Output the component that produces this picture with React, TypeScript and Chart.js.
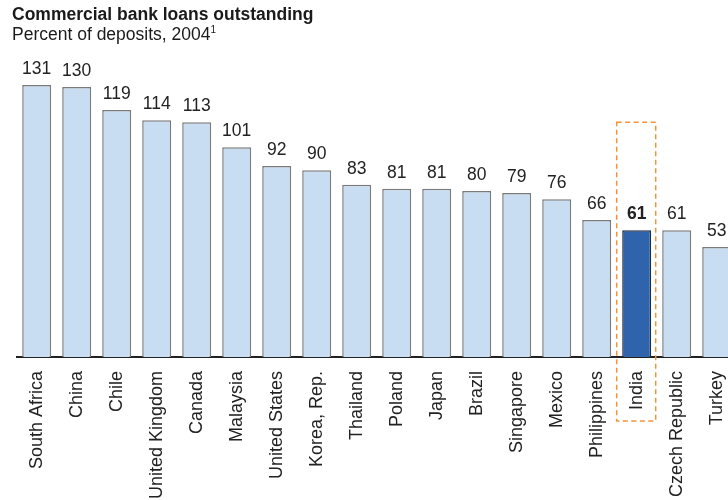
import React, { useEffect, useRef } from "react";
import { Chart, registerables } from "chart.js";

Chart.register(...registerables);

const categories = [
  "South Africa",
  "China",
  "Chile",
  "United Kingdom",
  "Canada",
  "Malaysia",
  "United States",
  "Korea, Rep.",
  "Thailand",
  "Poland",
  "Japan",
  "Brazil",
  "Singapore",
  "Mexico",
  "Philippines",
  "India",
  "Czech Republic",
  "Turkey",
];

const values = [131, 130, 119, 114, 113, 101, 92, 90, 83, 81, 81, 80, 79, 76, 66, 61, 61, 53];

const highlight = "India";
const valueMax = 131;
const frameTopValue = 113;

const FONT = '"Liberation Sans", Arial, Helvetica, sans-serif';
const LIGHT = "#c8ddf1";
const LIGHT_BORDER = "#7a7a7a";
const DARK = "#2f63ab";
const DARK_BORDER = "#1c2b48";

export default function App() {
  const ref = useRef<HTMLCanvasElement>(null);

  useEffect(() => {
    document.body.style.margin = "0";
    const canvas = ref.current;
    if (!canvas) return;
    const hi = categories.indexOf(highlight);

    const valueLabels = {
      id: "valueLabels",
      afterDatasetsDraw(chart: any) {
        const ctx = chart.ctx;
        const meta = chart.getDatasetMeta(0);
        ctx.save();
        ctx.textAlign = "center";
        ctx.textBaseline = "alphabetic";
        ctx.fillStyle = "#222222";
        meta.data.forEach((bar: any, i: number) => {
          ctx.font = `${i === hi ? "bold " : ""}17.5px ${FONT}`;
          ctx.fillText(String(values[i]), bar.x, bar.y - 11);
        });
        ctx.restore();
      },
    };

    const frame = {
      id: "frame",
      afterDraw(chart: any) {
        const x = chart.scales.x;
        const y = chart.scales.y;
        const ctx = chart.ctx;
        const cx = x.getPixelForValue(hi);
        const half = (x.getPixelForValue(1) - x.getPixelForValue(0)) / 2;
        const top = y.getPixelForValue(frameTopValue);
        const bottom = x.top + 64;
        ctx.save();
        ctx.strokeStyle = "#f2923a";
        ctx.lineWidth = 1.5;
        ctx.setLineDash([5, 3.5]);
        ctx.strokeRect(cx - half, top, half * 2 - 1, bottom - top);
        ctx.restore();
      },
    };

    const chart = new Chart(canvas, {
      type: "bar",
      data: {
        labels: categories,
        datasets: [
          {
            data: values,
            backgroundColor: categories.map((c) => (c === highlight ? DARK : LIGHT)),
            borderColor: categories.map((c) => (c === highlight ? DARK_BORDER : LIGHT_BORDER)),
            borderWidth: 1.5,
            barPercentage: 0.725,
            categoryPercentage: 1,
          },
        ],
      },
      options: {
        responsive: false,
        animation: false,
        events: [],
        layout: { padding: { top: 85, left: 16.7, right: 23.3, bottom: 0 } },
        plugins: {
          legend: { display: false },
          tooltip: { enabled: false },
          title: { display: false },
        },
        scales: {
          x: {
            grid: { display: false, drawTicks: false },
            border: { display: true, color: "#222222", width: 2 },
            ticks: {
              autoSkip: false,
              minRotation: 90,
              maxRotation: 90,
              padding: 14,
              color: "#222222",
              font: { family: FONT, size: 18 },
            },
            afterFit(scale: any) {
              scale.height = 143;
            },
          },
          y: {
            display: false,
            min: 0,
            max: valueMax,
          },
        },
      },
      plugins: [valueLabels, frame],
    });

    return () => chart.destroy();
  }, []);

  return (
    <div
      style={{
        position: "relative",
        width: 728,
        height: 500,
        overflow: "hidden",
        background: "#ffffff",
        fontFamily: FONT,
        color: "#1a1a1a",
      }}
    >
      <canvas
        ref={ref}
        width={760}
        height={500}
        style={{ position: "absolute", left: 0, top: 0, width: 760, height: 500 }}
      />
      <div
        style={{
          position: "absolute",
          left: 12,
          top: 4,
          fontSize: 17.5,
          lineHeight: "20px",
          whiteSpace: "nowrap",
        }}
      >
        <div style={{ fontWeight: "bold" }}>Commercial bank loans outstanding</div>
        <div>
          Percent of deposits, 2004
          <sup style={{ fontSize: 10, lineHeight: 0, verticalAlign: "7px" }}>1</sup>
        </div>
      </div>
    </div>
  );
}
